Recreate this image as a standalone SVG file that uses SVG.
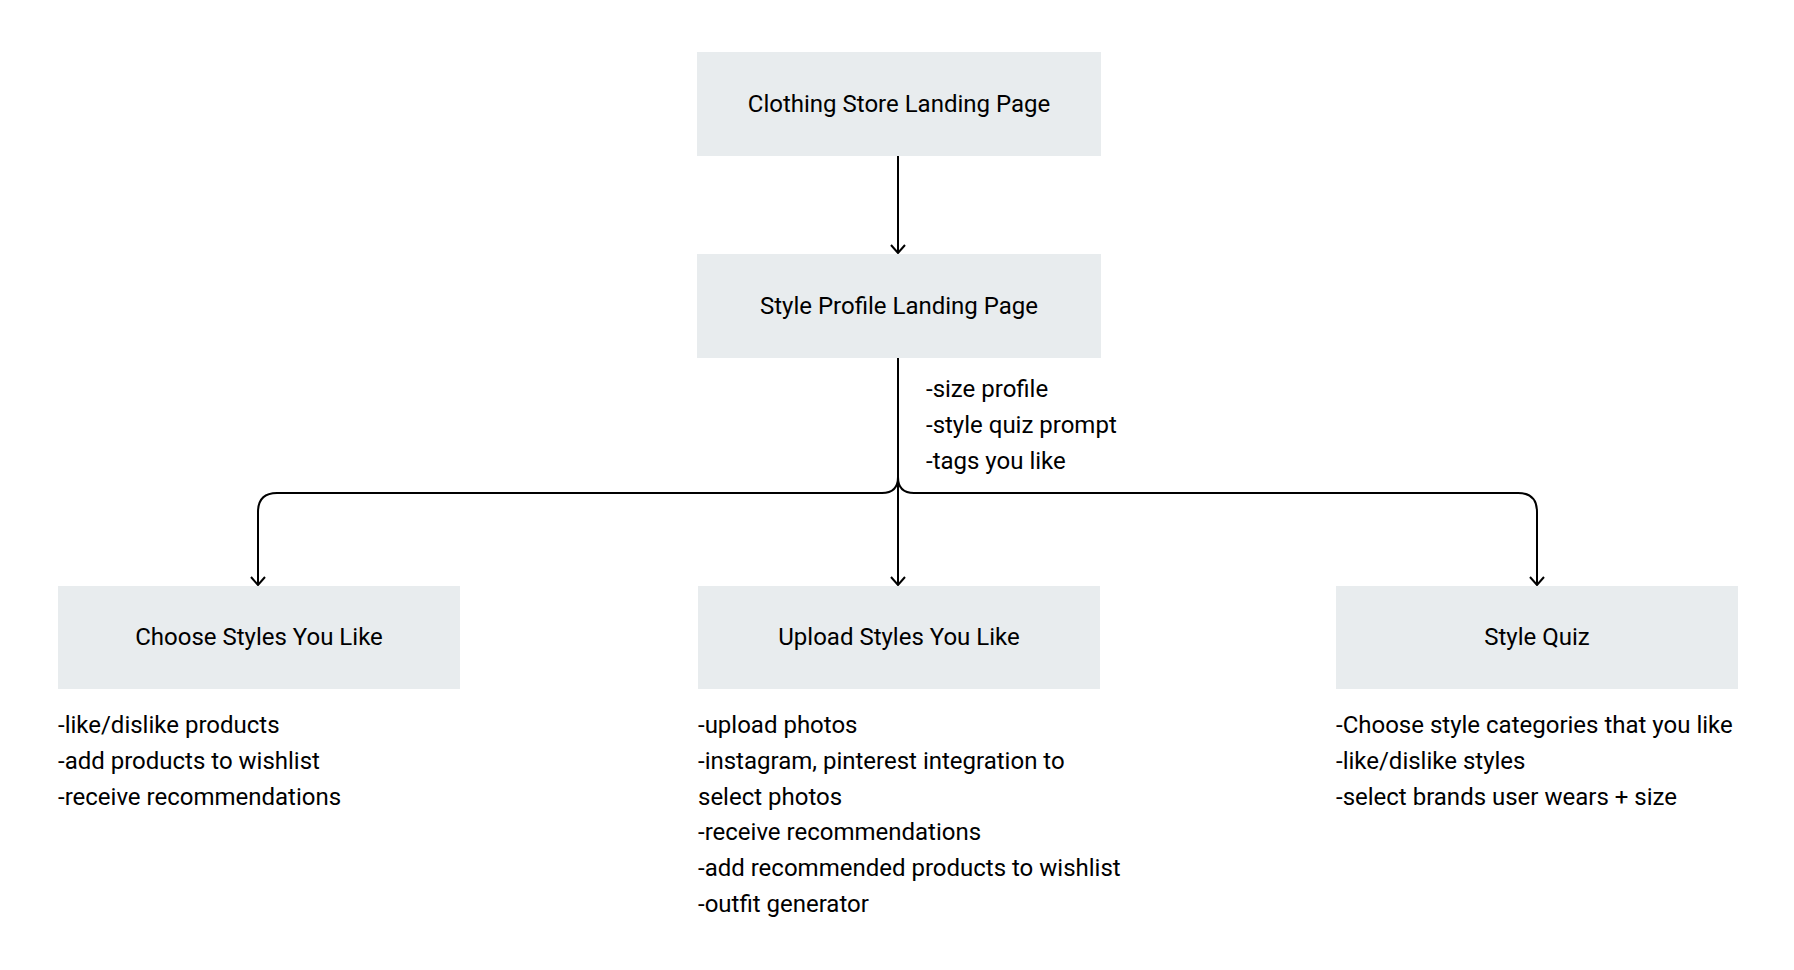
<svg xmlns="http://www.w3.org/2000/svg" width="1794" height="970" viewBox="0 0 1794 970">
<style>
.box{fill:#e8ecee;}
.t{font-family:Roboto,"Liberation Sans",sans-serif;font-size:24px;fill:#000;}
.c{text-anchor:middle;}
.edge{fill:none;stroke:#000;stroke-width:2;}
</style>
<defs>
<marker id="arr" viewBox="0 0 10 16" refX="9" refY="8" markerWidth="10" markerHeight="16" markerUnits="userSpaceOnUse" orient="auto">
<path d="M1 1 L9 8 L1 15" fill="none" stroke="#000" stroke-width="2"/>
</marker>
</defs>
<rect width="1794" height="970" fill="#fff"/>
<g id="connectors">
<path class="edge" d="M898 156 V253" marker-end="url(#arr)"/>
<path class="edge" d="M898 358 V585" marker-end="url(#arr)"/>
<path class="edge" d="M898 358 V477 Q898 493 882 493 H277 Q258 493 258 512 V585" marker-end="url(#arr)"/>
<path class="edge" d="M898 358 V477 Q898 493 914 493 H1518 Q1537 493 1537 512 V585" marker-end="url(#arr)"/>
</g>
<g id="clothing-store-landing">
<rect class="box" x="697" y="52" width="404" height="104"/>
<text class="t c" x="899" y="112">Clothing Store Landing Page</text>
</g>
<g id="style-profile-landing">
<rect class="box" x="697" y="254" width="404" height="104"/>
<text class="t c" x="899" y="314">Style Profile Landing Page</text>
</g>
<g id="profile-notes">
<text class="t" x="926" y="397">-size profile</text>
<text class="t" x="926" y="433">-style quiz prompt</text>
<text class="t" x="926" y="469">-tags you like</text>
</g>
<g id="choose-styles">
<rect class="box" x="58" y="586" width="402" height="103"/>
<text class="t c" x="259" y="645">Choose Styles You Like</text>
<text class="t" x="58" y="733">-like/dislike products</text>
<text class="t" x="58" y="769">-add products to wishlist</text>
<text class="t" x="58" y="805">-receive recommendations</text>
</g>
<g id="upload-styles">
<rect class="box" x="698" y="586" width="402" height="103"/>
<text class="t c" x="899" y="645">Upload Styles You Like</text>
<text class="t" x="698" y="733">-upload photos</text>
<text class="t" x="698" y="769">-instagram, pinterest integration to</text>
<text class="t" x="698" y="805">select photos</text>
<text class="t" x="698" y="840">-receive recommendations</text>
<text class="t" x="698" y="876">-add recommended products to wishlist</text>
<text class="t" x="698" y="912">-outfit generator</text>
</g>
<g id="style-quiz">
<rect class="box" x="1336" y="586" width="402" height="103"/>
<text class="t c" x="1537" y="645">Style Quiz</text>
<text class="t" x="1336" y="733">-Choose style categories that you like</text>
<text class="t" x="1336" y="769">-like/dislike styles</text>
<text class="t" x="1336" y="805">-select brands user wears + size</text>
</g>
</svg>
